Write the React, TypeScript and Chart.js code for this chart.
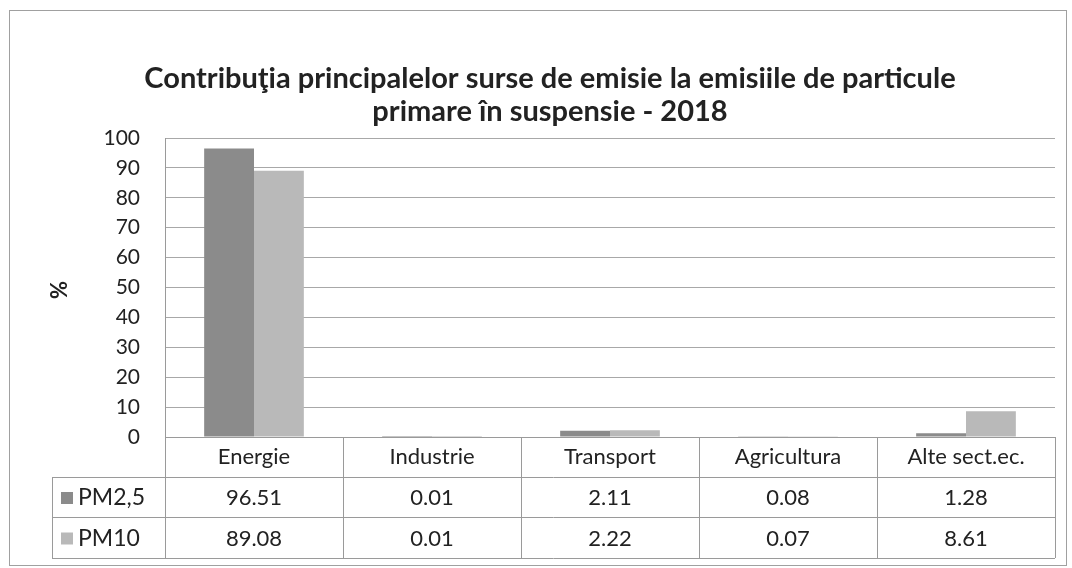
import React, { useEffect, useRef } from "react";
import { Chart, registerables } from "chart.js";

Chart.register(...registerables);

const titleLines = [
  "Contribuţia principalelor surse de emisie la emisiile de particule",
  "primare în suspensie - 2018",
];
const categories = ["Energie", "Industrie", "Transport", "Agricultura", "Alte sect.ec."];
const seriesNames = ["PM2,5", "PM10"];
const pm25 = [96.51, 0.01, 2.11, 0.08, 1.28];
const pm10 = [89.08, 0.01, 2.22, 0.07, 8.61];
const yTicks = [0, 10, 20, 30, 40, 50, 60, 70, 80, 90, 100];
const yTitle = "%";

const COLORS = ["#8b8b8b", "#b9b9b9"];
const FONT = "Lato, 'Open Sans', sans-serif";

const decorPlugin = {
  id: "decor",
  afterDraw(chart: any) {
    const { ctx, chartArea: a, scales } = chart;
    const x = scales.x;
    const n = categories.length;
    const step = (a.right - a.left) / n;
    const rows = [a.bottom, 466, 506, 547];
    const labelLeft = 42;
    ctx.save();

    // title
    ctx.fillStyle = "#222";
    ctx.textAlign = "center";
    ctx.textBaseline = "middle";
    ctx.font = `bold 29px ${FONT}`;
    ctx.fillText(titleLines[0], 540, 68);
    ctx.fillText(titleLines[1], 540, 101);

    // y title
    ctx.save();
    ctx.translate(50, 279);
    ctx.rotate(-Math.PI / 2);
    ctx.font = `bold 22px ${FONT}`;
    ctx.fillText(yTitle, 0, 0);
    ctx.restore();

    // table lines
    ctx.strokeStyle = "#9a9a9a";
    ctx.lineWidth = 1;
    ctx.beginPath();
    ctx.moveTo(a.left + 0.5, a.top);
    ctx.lineTo(a.left + 0.5, rows[3]);
    for (let i = 1; i <= n; i++) {
      const px = Math.round(a.left + step * i) + 0.5;
      ctx.moveTo(px, rows[0]);
      ctx.lineTo(px, rows[3]);
    }
    ctx.moveTo(a.left, rows[0] + 0.5);
    ctx.lineTo(a.right, rows[0] + 0.5);
    for (let r = 1; r < 4; r++) {
      ctx.moveTo(labelLeft, rows[r] + 0.5);
      ctx.lineTo(a.right, rows[r] + 0.5);
    }
    ctx.moveTo(labelLeft + 0.5, rows[1]);
    ctx.lineTo(labelLeft + 0.5, rows[3]);
    ctx.stroke();

    // category labels
    ctx.fillStyle = "#222";
    ctx.font = `22px ${FONT}`;
    categories.forEach((c, i) => {
      ctx.fillText(c, x.getPixelForValue(i), (rows[0] + rows[1]) / 2);
    });

    // data rows
    const series = [pm25, pm10];
    series.forEach((vals, r) => {
      const cy = (rows[r + 1] + rows[r + 2]) / 2 + 1;
      ctx.fillStyle = COLORS[r];
      ctx.fillRect(labelLeft + 9, cy - 6, 12, 12);
      ctx.fillStyle = "#222";
      ctx.textAlign = "left";
      ctx.font = `23px ${FONT}`;
      ctx.fillText(seriesNames[r], labelLeft + 26, cy);
      ctx.textAlign = "center";
      ctx.font = `22px ${FONT}`;
      vals.forEach((v, i) => {
        ctx.fillText(v.toFixed(2), x.getPixelForValue(i), cy);
      });
    });
    ctx.restore();
  },
};

export default function App() {
  const ref = useRef<HTMLCanvasElement | null>(null);
  useEffect(() => {
    if (!ref.current) return;
    const chart = new Chart(ref.current, {
      type: "bar",
      data: {
        labels: categories,
        datasets: [
          { label: seriesNames[0], data: pm25, backgroundColor: COLORS[0], borderWidth: 0 },
          { label: seriesNames[1], data: pm10, backgroundColor: COLORS[1], borderWidth: 0 },
        ],
      },
      options: {
        animation: false,
        responsive: false,
        maintainAspectRatio: false,
        layout: { padding: { left: 0, top: 127, right: 11, bottom: 128 } },
        datasets: { bar: { categoryPercentage: 0.56, barPercentage: 1 } } as any,
        plugins: {
          legend: { display: false },
          title: { display: false },
          tooltip: { enabled: false },
        },
        scales: {
          x: { display: false, offset: true },
          y: {
            min: 0,
            max: 100,
            afterFit: (s: any) => {
              s.width = 155;
            },
            afterBuildTicks: (s: any) => {
              s.ticks = yTicks.map((v) => ({ value: v }));
            },
            ticks: {
              padding: 25,
              color: "#222",
              font: { family: FONT, size: 21 },
            },
            grid: { color: "#a8a8a8", drawTicks: false },
            border: { display: false },
          },
        },
      },
      plugins: [decorPlugin],
    });
    return () => chart.destroy();
  }, []);
  return (
    <div
      style={{
        position: "absolute",
        left: 9,
        top: 10,
        width: 1058,
        height: 556,
        border: "1px solid #a0a0a0",
        boxSizing: "border-box",
        background: "#fff",
      }}
    >
      <canvas ref={ref} width={1056} height={554} style={{ display: "block" }} />
    </div>
  );
}
